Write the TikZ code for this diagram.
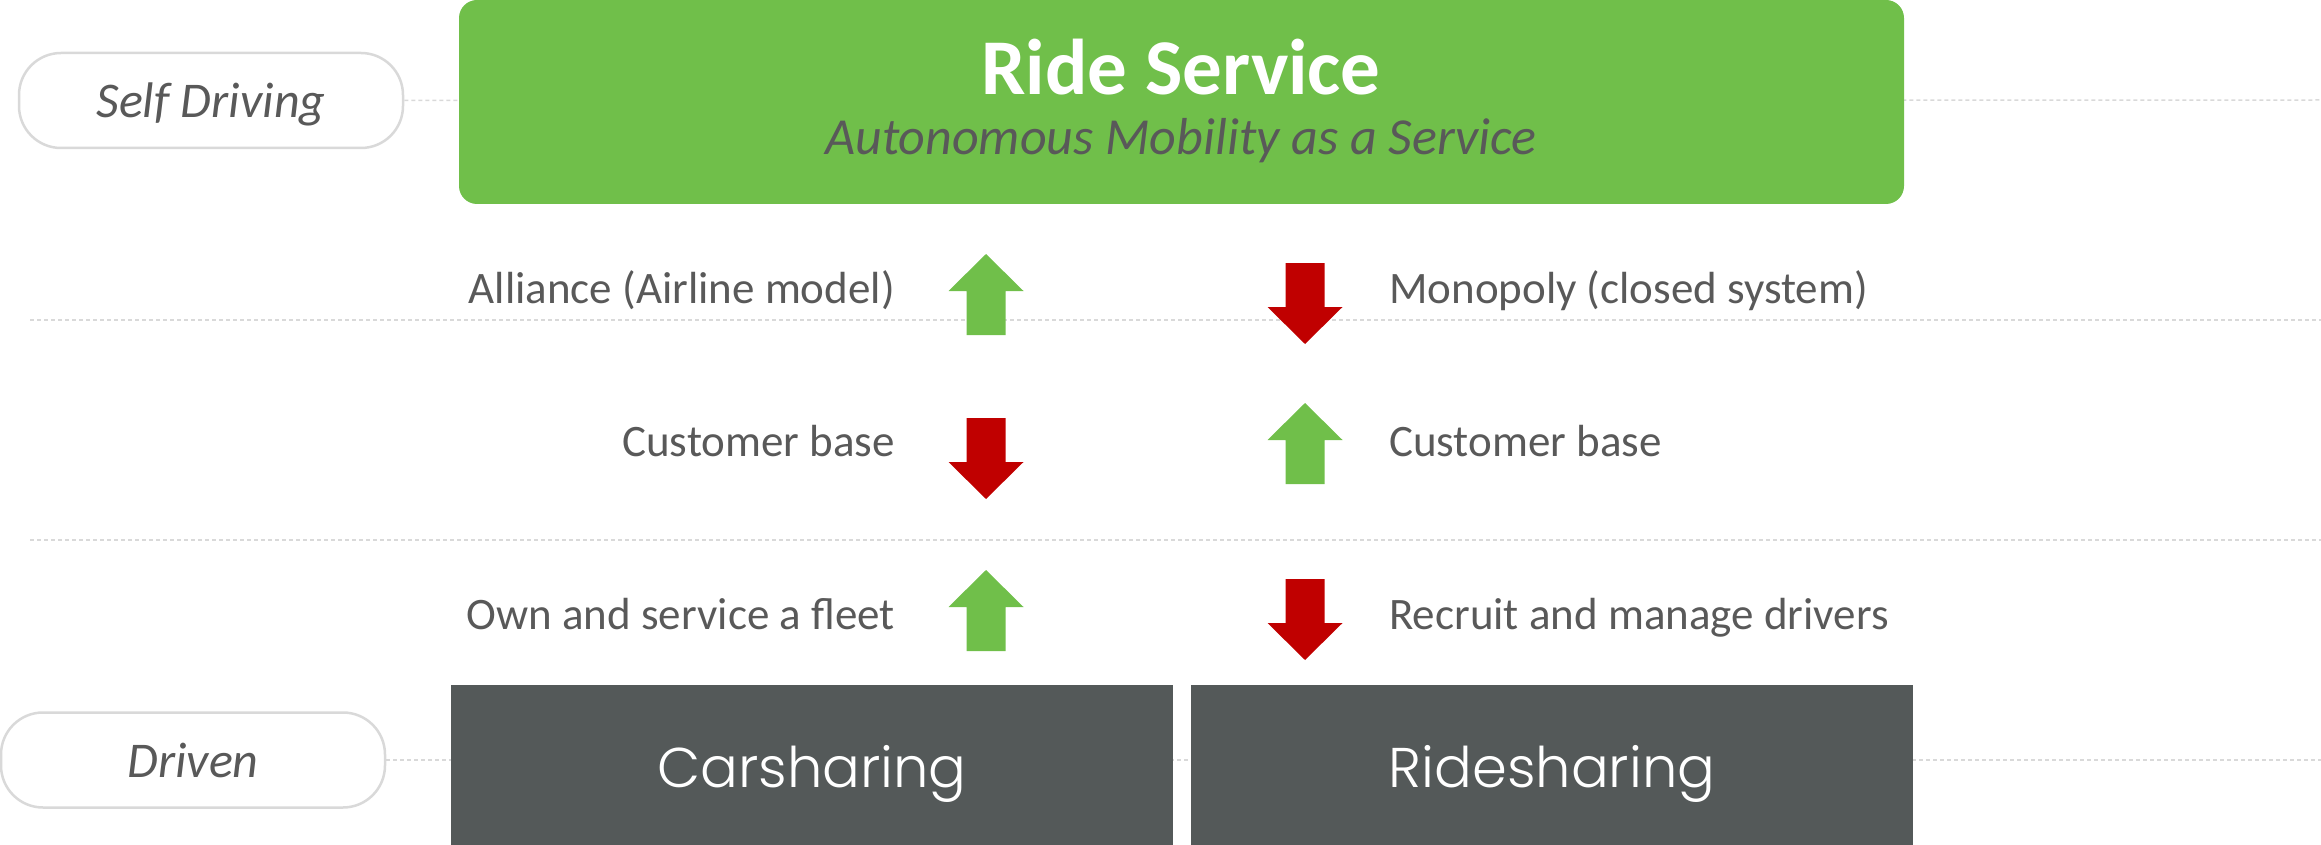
\documentclass[tikz,border=0pt]{standalone}
\usepackage{fontspec}
\setmainfont{Carlito}
\newfontfamily\geo{Poppins Light}
\definecolor{rgreen}{RGB}{112,191,74}
\definecolor{rred}{RGB}{192,0,0}
\definecolor{rgray}{RGB}{89,89,89}
\definecolor{rdark}{RGB}{84,89,89}
\definecolor{rline}{RGB}{217,217,217}
\newcommand{\ArrUp}[4]{% name, x, ytip, colour
  \fill[#4] (#2,#3) -- ++(37.5,37) -- ++(-18,0) -- ++(0,44) -- ++(-39,0) -- ++(0,-44) -- ++(-18,0) -- cycle;
  \coordinate (#1) at (#2,#3);}
\newcommand{\ArrDown}[4]{% name, x, ytop, colour
  \fill[#4] (#2,#3) ++(-19.5,0) -- ++(39,0) -- ++(0,44) -- ++(18,0) -- ++(-37.5,37) -- ++(-37.5,-37) -- ++(18,0) -- cycle;
  \coordinate (#1) at (#2,#3);}
\begin{document}
\begin{tikzpicture}[x=1pt,y=-1pt,
  pill/.style={draw=rline,line width=2.5pt,fill=white,rounded corners=42,minimum width=384,minimum height=95,inner sep=0},
  pilltext/.style={font=\fontsize{50}{56}\selectfont\itshape,text=rgray,inner sep=0,anchor=base},
  guide/.style={draw=rline,line width=1.5pt,dash pattern=on 4pt off 3pt},
  body/.style={font=\fontsize{45}{50}\selectfont,text=rgray,inner sep=0},
  darkbox/.style={fill=rdark,minimum width=722,minimum height=160,inner sep=0},
  boxtext/.style={font=\geo\fontsize{56}{62}\selectfont,text=white,inner sep=0,anchor=base}]
\useasboundingbox (0,0) rectangle (2321,845);
% guide lines
\coordinate (g1) at (2321,100);
\coordinate (g2a) at (30,320);
\coordinate (g2b) at (2321,320);
\coordinate (g3a) at (30,540);
\coordinate (g3b) at (2321,540);
\coordinate (g4) at (2321,760);
\node[pill] (sd) at (211,100.5) {};
\node[pill] (dr) at (193,760) {};
\draw[guide] (sd.east) -- (g1);
\draw[guide] (g2a) -- (g2b);
\draw[guide] (g3a) -- (g3b);
\draw[guide] (dr.east) -- (g4);
\node[pilltext] (sdt) at (211,118) {Self Driving};
\node[pilltext] (drt) at (193,777) {Driven};
% top box
\node[fill=rgreen,rounded corners=18,minimum width=1445,minimum height=204,inner sep=0] (rs) at (1181.5,102) {};
\node[font=\fontsize{79}{86}\selectfont\bfseries,text=white,inner sep=0,anchor=base] (rst) at (1181,95) {Ride Service};
\node[font=\fontsize{52}{58}\selectfont\itshape,text=rgray,inner sep=0,anchor=base] (rss) at (1181,155) {Autonomous Mobility as a Service};
% bottom boxes
\node[darkbox] (cs) at (811.5,765) {};
\node[darkbox] (rd) at (1552,765) {};
\node[boxtext] (cst) at (812,787) {Carsharing};
\node[boxtext] (rdt) at (1552,787) {Ridesharing};
% arrows
\ArrUp{a1}{986}{254}{rgreen}
\ArrDown{a2}{986}{418}{rred}
\ArrUp{a3}{986}{570}{rgreen}
\ArrDown{b1}{1305}{263}{rred}
\ArrUp{b2}{1305}{403}{rgreen}
\ArrDown{b3}{1305}{579}{rred}
% texts
\node[body,anchor=base east] (l1) at (895,303) {Alliance (Airline model)};
\node[body,anchor=base east] (l2) at (895,456) {Customer base};
\node[body,anchor=base east] (l3) at (895,629) {Own and service a fleet};
\node[body,anchor=base west] (r1) at (1389,303) {Monopoly (closed system)};
\node[body,anchor=base west] (r2) at (1389,456) {Customer base};
\node[body,anchor=base west] (r3) at (1389,629) {Recruit and manage drivers};
\end{tikzpicture}
\end{document}
